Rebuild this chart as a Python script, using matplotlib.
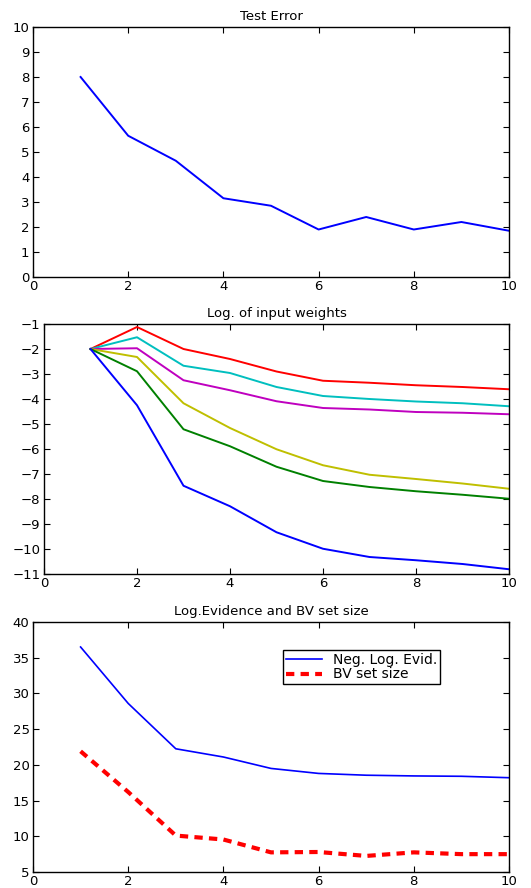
import numpy as np
import matplotlib
matplotlib.use("Agg")
import matplotlib.pyplot as plt

plt.rcParams["font.family"] = ["DejaVu Sans"]

iters = [1, 2, 3, 4, 5, 6, 7, 8, 9, 10]

# Test error
test_error = [8.0, 5.65, 4.65, 3.15, 2.85, 1.9, 2.4, 1.9, 2.2, 1.85]

# Log. of input weights (one series per input)
w_red = [-2.0, -1.12, -2.0, -2.4, -2.9, -3.27, -3.35, -3.45, -3.52, -3.61]
w_cyan = [-2.0, -1.53, -2.67, -2.96, -3.52, -3.88, -4.0, -4.1, -4.17, -4.29]
w_magenta = [-2.0, -1.97, -3.25, -3.65, -4.09, -4.36, -4.42, -4.52, -4.55, -4.61]
w_yellow = [-2.0, -2.32, -4.17, -5.16, -6.01, -6.65, -7.03, -7.2, -7.38, -7.59]
w_green = [-2.0, -2.89, -5.21, -5.89, -6.71, -7.28, -7.52, -7.69, -7.83, -7.99]
w_blue = [-2.0, -4.25, -7.47, -8.29, -9.33, -9.99, -10.32, -10.45, -10.6, -10.81]

# Evidence and BV set size
neg_log_evid = [36.5, 28.6, 22.25, 21.1, 19.5, 18.8, 18.55, 18.45, 18.4, 18.2]
bv_size = [21.9, 16.2, 10.1, 9.55, 7.75, 7.8, 7.25, 7.75, 7.5, 7.5]

FS = 9.5
W, H = 531, 888
fig = plt.figure(figsize=(W / 100, H / 100), dpi=100)


def make_ax(left, top, right, bottom):
    ax = fig.add_axes([left / W, 1 - bottom / H, (right - left) / W, (bottom - top) / H])
    ax.tick_params(direction="in", top=True, right=True, length=4, width=0.8,
                   labelsize=FS)
    ax.tick_params(axis="x", pad=2.5)
    ax.tick_params(axis="y", pad=2.5)
    for s in ax.spines.values():
        s.set_linewidth(1.0)
    return ax


# ---- panel 1 ----
ax1 = make_ax(33, 27, 509, 277)
ax1.plot(iters, test_error, color="#0000ff", lw=1.4)
ax1.set_xlim(0, 10)
ax1.set_ylim(0, 10)
ax1.set_xticks(range(0, 11, 2))
ax1.set_yticks(range(0, 11, 1))
ax1.set_title("Test Error", fontsize=FS, pad=5)

# ---- panel 2 ----
ax2 = make_ax(44, 324, 509, 574)
for vals, c in [(w_red, "#ff0000"), (w_cyan, "#00bfbf"), (w_magenta, "#bf00bf"),
                (w_yellow, "#bfbf00"), (w_green, "#008000"), (w_blue, "#0000ff")]:
    ax2.plot(iters, vals, color=c, lw=1.4)
ax2.set_xlim(0, 10)
ax2.set_ylim(-11, -1)
ax2.set_xticks(range(0, 11, 2))
ax2.set_yticks(range(-11, 0, 1))
ax2.set_title("Log. of input weights", fontsize=FS, pad=5)

# ---- panel 3 ----
ax3 = make_ax(33, 622, 509, 872)
ax3.plot(iters, neg_log_evid, color="#0000ff", lw=1.2, label="Neg. Log. Evid.")
ax3.plot(iters, bv_size, color="#ff0000", lw=3, ls=(0, (2, 1.5)), label="BV set size")
ax3.set_xlim(0, 10)
ax3.set_ylim(5, 40)
ax3.set_xticks(range(0, 11, 2))
ax3.set_yticks(range(5, 41, 5))
ax3.set_title("Log.Evidence and BV set size", fontsize=FS, pad=5)
leg = ax3.legend(loc="upper left", bbox_to_anchor=(0.525, 0.888), fontsize=FS + 0.5,
                 fancybox=False, edgecolor="black", framealpha=1,
                 borderpad=0.2, labelspacing=0.05, handlelength=2.6,
                 handletextpad=0.8, borderaxespad=0)
leg.get_frame().set_linewidth(1.0)

fig.savefig("out.png", dpi=100)
